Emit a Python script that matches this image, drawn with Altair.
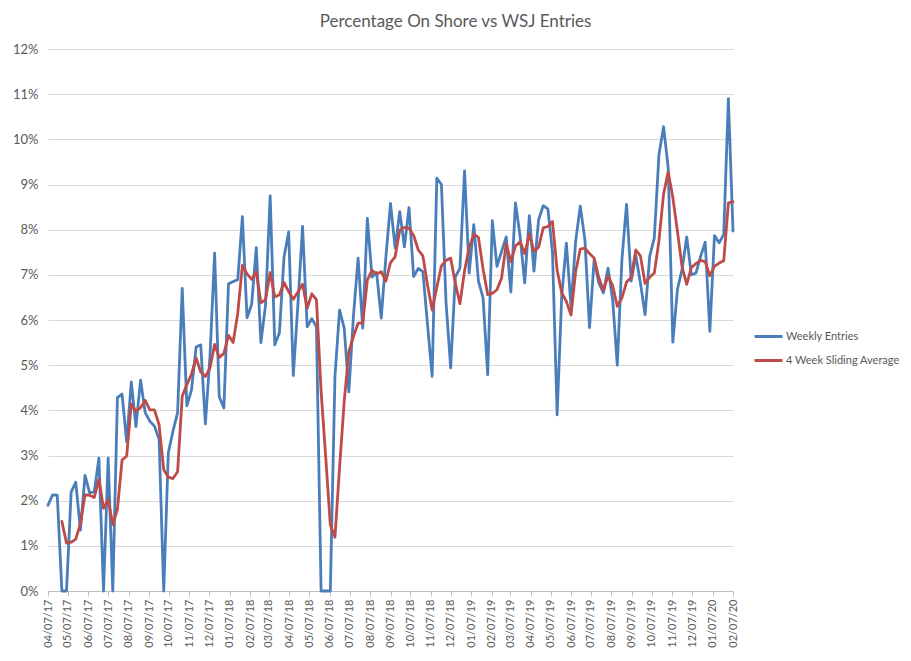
import altair as alt
import pandas as pd

# ---- data (percent values) ----
start_date = "2017-04-07"
weekly_entries = [
    1.90, 2.13, 2.12, 0.00, 0.00, 2.19, 2.41, 1.35, 2.56, 2.17,
    2.20, 2.94, 0.00, 2.94, 0.00, 4.28, 4.36, 3.30, 4.63, 3.64,
    4.67, 3.95, 3.76, 3.65, 3.36, 0.00, 3.06, 3.54, 3.95, 6.70,
    4.10, 4.45, 5.40, 5.45, 3.70, 5.20, 7.48, 4.30, 4.05, 6.80,
    6.85, 6.89, 8.29, 6.05, 6.35, 7.60, 5.50, 6.33, 8.75, 5.45,
    5.72, 7.40, 7.95, 4.77, 6.35, 8.07, 5.85, 6.03, 5.85, 0.00,
    0.00, 0.00, 4.75, 6.22, 5.82, 4.41, 6.10, 7.37, 5.82, 8.25,
    6.95, 7.05, 6.04, 7.39, 8.58, 7.59, 8.40, 7.62, 8.49, 6.96,
    7.14, 7.07, 5.90, 4.75, 9.14, 9.00, 6.39, 4.94, 6.95, 7.15,
    9.30, 7.04, 8.11, 6.86, 6.49, 4.79, 8.20, 7.19, 7.52, 7.84,
    6.62, 8.59, 7.86, 6.82, 8.31, 7.08, 8.22, 8.53, 8.46, 7.50,
    3.90, 6.54, 7.70, 6.30, 7.74, 8.52, 7.78, 5.83, 7.34, 6.82,
    6.60, 7.15, 6.45, 5.00, 7.34, 8.56, 6.86, 7.43, 6.82, 6.12,
    7.41, 7.82, 9.66, 10.28, 9.37, 5.51, 6.68, 7.12, 7.84, 7.00,
    7.04, 7.41, 7.72, 5.75, 7.87, 7.71, 7.89, 10.90, 7.97,
]
# sliding average starts with the 4th week
sliding_average = [
    1.54, 1.06, 1.08, 1.15, 1.49, 2.13, 2.12, 2.07, 2.47, 1.83,
    2.02, 1.47, 1.81, 2.90, 2.99, 4.14, 3.98, 4.06, 4.22, 4.01,
    4.01, 3.68, 2.69, 2.52, 2.49, 2.64, 4.31, 4.57, 4.80, 5.16,
    4.85, 4.75, 4.94, 5.46, 5.17, 5.26, 5.66, 5.50, 6.15, 7.21,
    7.02, 6.90, 7.07, 6.38, 6.45, 7.05, 6.51, 6.56, 6.83, 6.63,
    6.46, 6.62, 6.79, 6.26, 6.58, 6.45, 4.43, 2.97, 1.46, 1.19,
    2.74, 4.20, 5.30, 5.64, 5.93, 5.93, 6.89, 7.10, 7.02, 7.07,
    6.86, 7.27, 7.40, 7.99, 8.05, 8.03, 7.87, 7.55, 7.42, 6.77,
    6.22, 6.72, 7.20, 7.32, 7.37, 6.82, 6.36, 7.09, 7.61, 7.90,
    7.83, 7.13, 6.56, 6.59, 6.67, 6.93, 7.69, 7.29, 7.64, 7.73,
    7.47, 7.90, 7.52, 7.61, 8.04, 8.07, 8.18, 7.10, 6.60, 6.41,
    6.11, 7.07, 7.57, 7.59, 7.47, 7.37, 6.94, 6.65, 6.98, 6.76,
    6.30, 6.49, 6.84, 6.94, 7.55, 7.42, 6.81, 6.95, 7.04, 7.75,
    8.79, 9.28, 8.71, 7.96, 7.17, 6.79, 7.16, 7.25, 7.32, 7.29,
    6.98, 7.19, 7.26, 7.31, 8.59, 8.62,
]
series_names = ["Weekly Entries", "4 Week Sliding Average"]
series_colors = ["#4A7EBB", "#BE4B48"]
y_ticks = [0, 1, 2, 3, 4, 5, 6, 7, 8, 9, 10, 11, 12]

# ---- build table ----
dates = pd.date_range(start_date, periods=len(weekly_entries), freq="7D")
date_str = [d.strftime("%Y-%m-%d") for d in dates]
offset = len(weekly_entries) - len(sliding_average)

rows = []
for d, v in zip(date_str, weekly_entries):
    rows.append({"date": d, "value": v / 100, "series": series_names[0]})
for d, v in zip(date_str[offset:], sliding_average):
    rows.append({"date": d, "value": v / 100, "series": series_names[1]})
df = pd.DataFrame(rows)

month_ticks = pd.date_range("2017-04-01", "2020-02-01", freq="MS") + pd.Timedelta(days=6)
tick_ms = [int(t.value // 10**6) for t in month_ticks]
domain_ms = [int(dates[0].value // 10**6), int(dates[-1].value // 10**6)]

FONT = "Lato"
GREY_TXT = "#595959"

chart = (
    alt.Chart(df)
    .mark_line(strokeWidth=2.8, strokeJoin="round", strokeCap="round")
    .encode(
        x=alt.X(
            "date:T",
            scale=alt.Scale(type="utc", domain=domain_ms, nice=False, padding=0),
            axis=alt.Axis(
                values=tick_ms,
                labelExpr="utcFormat(datum.value, '%m/%d/%y')",
                labelAngle=270,
                labelAlign="right",
                labelBaseline="middle",
                labelPadding=3,
                labelFontSize=11,
                labelColor=GREY_TXT,
                labelFont=FONT,
                labelOverlap=False,
                tickColor="#BFBFBF",
                tickSize=5,
                domainColor="#BFBFBF",
                domainWidth=1,
                grid=False,
                title=None,
            ),
        ),
        y=alt.Y(
            "value:Q",
            scale=alt.Scale(domain=[0, 0.12], nice=False, zero=True),
            axis=alt.Axis(
                values=[t / 100 for t in y_ticks],
                format=".0%",
                labelFontSize=13,
                labelColor=GREY_TXT,
                labelFont=FONT,
                labelPadding=10,
                ticks=False,
                domain=False,
                grid=True,
                gridColor="#D9D9D9",
                gridWidth=1,
                title=None,
            ),
        ),
        color=alt.Color(
            "series:N",
            scale=alt.Scale(domain=series_names, range=series_colors),
            sort=series_names,
            legend=alt.Legend(
                title=None,
                orient="none",
                legendX=712,
                legendY=279,
                symbolType="M-2,0H2",
                symbolSize=196,
                symbolStrokeWidth=3,
                rowPadding=9,
                labelFontSize=11,
                labelFont=FONT,
                labelColor=GREY_TXT,
                labelOffset=9,
                padding=0,
            ),
        ),
        order=alt.Order("date:T"),
    )
    .properties(
        width=685,
        height=542,
        padding={"left": 40, "top": 41, "right": 170, "bottom": 62},
        autosize=alt.AutoSizeParams(type="none"),
        title=alt.TitleParams(
            "Percentage On Shore vs WSJ Entries",
            fontSize=17,
            font=FONT,
            fontWeight="normal",
            color=GREY_TXT,
            anchor="middle",
            dx=65,
            offset=12,
        ),
        background="white",
    )
    .configure_view(stroke=None)
)

chart.save("out.html", embed_options={"renderer": "svg", "actions": False})
